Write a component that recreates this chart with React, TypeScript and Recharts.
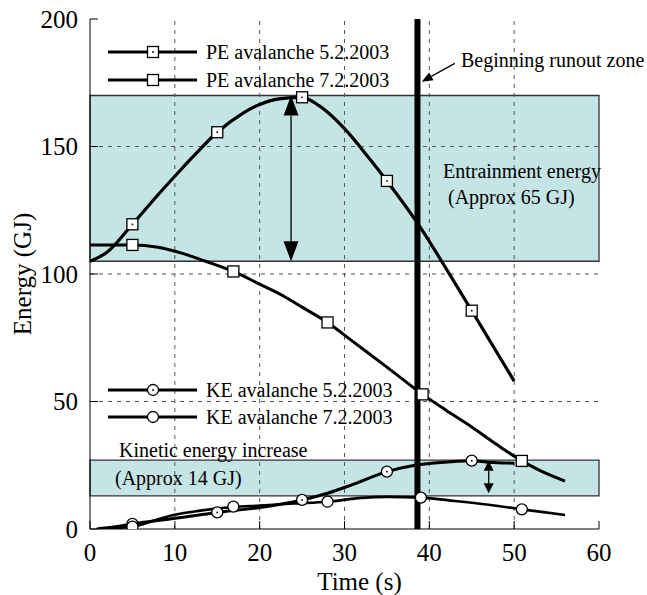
import React from "react";
import {
  ComposedChart,
  Line,
  Scatter,
  XAxis,
  YAxis,
  ReferenceArea,
  ReferenceLine,
  Label
} from "recharts";

const timeTicks = [0, 10, 20, 30, 40, 50, 60];
const energyTicks = [0, 50, 100, 150, 200];
const gridTimes = [10, 20, 30, 40, 50];
const gridEnergies = [50, 100, 150];

// potential energy, avalanche 5.2.2003
const pe0502Line = [
  { t: 0, e: 105 }, { t: 2, e: 108.5 }, { t: 5, e: 119.5 }, { t: 8, e: 131 },
  { t: 10.6, e: 140.5 }, { t: 12, e: 145.5 }, { t: 15, e: 155.6 }, { t: 18, e: 163 },
  { t: 20, e: 166.5 }, { t: 22.5, e: 168.8 }, { t: 25, e: 169.3 }, { t: 27, e: 166 },
  { t: 30, e: 157 }, { t: 33, e: 145 }, { t: 35, e: 136.5 }, { t: 38.9, e: 118.5 },
  { t: 42, e: 102 }, { t: 45, e: 85.6 }, { t: 48, e: 69 }, { t: 50, e: 58 }
];
const pe0502Marks = [
  { t: 5, e: 119.5 }, { t: 15, e: 155.6 }, { t: 25, e: 169.3 }, { t: 35, e: 136.5 }, { t: 45, e: 85.6 }
];

// potential energy, avalanche 7.2.2003
const pe0702Line = [
  { t: 0, e: 111.4 }, { t: 5, e: 111.4 }, { t: 8, e: 110.5 }, { t: 11, e: 108 },
  { t: 13.6, e: 105 }, { t: 16.9, e: 101 }, { t: 20, e: 96 }, { t: 23, e: 91 },
  { t: 25, e: 87 }, { t: 28, e: 81 }, { t: 31, e: 73.5 }, { t: 35, e: 63.5 },
  { t: 39.2, e: 52.8 }, { t: 42, e: 46.5 }, { t: 45, e: 40 }, { t: 48, e: 33 },
  { t: 50.9, e: 26.7 }, { t: 53, e: 23 }, { t: 56, e: 18.8 }
];
const pe0702Marks = [
  { t: 5, e: 111.4 }, { t: 16.9, e: 101 }, { t: 28, e: 81 }, { t: 39.2, e: 52.8 }, { t: 50.9, e: 26.7 }
];

// kinetic energy, avalanche 5.2.2003
const ke0502Line = [
  { t: 0.8, e: 0 }, { t: 3, e: 0.9 }, { t: 5, e: 2 }, { t: 8, e: 3.3 }, { t: 10, e: 4.2 },
  { t: 12, e: 5.1 }, { t: 15, e: 6.5 }, { t: 20, e: 8.4 }, { t: 25, e: 11.4 }, { t: 28, e: 14 },
  { t: 31, e: 17.5 }, { t: 35, e: 22.5 }, { t: 38, e: 24.8 }, { t: 41, e: 26 }, { t: 45, e: 26.8 },
  { t: 47, e: 26.2 }, { t: 50, e: 25.8 }
];
const ke0502Marks = [
  { t: 5, e: 2 }, { t: 15, e: 6.5 }, { t: 25, e: 11.4 }, { t: 35, e: 22.5 }, { t: 45, e: 26.8 }
];

// kinetic energy, avalanche 7.2.2003
const ke0702Line = [
  { t: 1, e: 0 }, { t: 3, e: 0.4 }, { t: 5, e: 0.9 }, { t: 8, e: 3.8 }, { t: 10, e: 5.6 },
  { t: 13, e: 7.2 }, { t: 16.9, e: 8.6 }, { t: 20, e: 9.2 }, { t: 24, e: 10 }, { t: 28, e: 10.7 },
  { t: 32, e: 12.2 }, { t: 35, e: 12.6 }, { t: 39, e: 12.3 }, { t: 43, e: 11 }, { t: 47, e: 9.5 },
  { t: 50.9, e: 7.7 }, { t: 53, e: 6.8 }, { t: 56, e: 5.5 }
];
const ke0702Marks = [
  { t: 5, e: 0.9 }, { t: 16.9, e: 8.8 }, { t: 28, e: 10.7 }, { t: 39, e: 12.3 }, { t: 50.9, e: 7.7 }
];

const entrainmentBand = [105, 170];
const kineticBand = [13, 27];
const runoutStart = 38.6;
const entrainArrow = { t: 23.7, from: 105, to: 170 };
const kineticArrow = { t: 47, from: 14, to: 26.8 };
const runoutPointer = { fromT: 43, fromE: 182.6, toT: 39.1, toE: 175.4 };

const FONT = "'Liberation Serif', 'Times New Roman', serif";
const BAND = "#c4e4e5";

const squareMark = (dotted: boolean) => (p: any) => (
  <g>
    <rect x={p.cx - 5.5} y={p.cy - 5.5} width={11} height={11} fill="#fff" stroke="#000" strokeWidth={1.3} />
    {dotted && <circle cx={p.cx} cy={p.cy} r={0.9} fill="#000" />}
  </g>
);

const circleMark = (dotted: boolean) => (p: any) => (
  <g>
    <circle cx={p.cx} cy={p.cy} r={5.5} fill="#fff" stroke="#000" strokeWidth={1.3} />
    {dotted && <circle cx={p.cx} cy={p.cy} r={0.9} fill="#000" />}
  </g>
);

const doubleArrow = (head: number, width: number) => (p: any) => {
  const x = p.x1;
  const top = Math.min(p.y1, p.y2);
  const bot = Math.max(p.y1, p.y2);
  return (
    <g>
      <line x1={x} x2={x} y1={top + head} y2={bot - head} stroke="#000" strokeWidth={1.3} />
      <polygon points={`${x},${top} ${x - width / 2},${top + head} ${x + width / 2},${top + head}`} fill="#000" />
      <polygon points={`${x},${bot} ${x - width / 2},${bot - head} ${x + width / 2},${bot - head}`} fill="#000" />
    </g>
  );
};

const pointer = (p: any) => {
  const dx = p.x2 - p.x1;
  const dy = p.y2 - p.y1;
  const len = Math.sqrt(dx * dx + dy * dy);
  const ux = dx / len;
  const uy = dy / len;
  const h = 11;
  const w = 4.5;
  const bx = p.x2 - ux * h;
  const by = p.y2 - uy * h;
  return (
    <g>
      <line x1={p.x1} y1={p.y1} x2={bx} y2={by} stroke="#000" strokeWidth={1.2} />
      <polygon
        points={`${p.x2},${p.y2} ${bx - uy * w},${by + ux * w} ${bx + uy * w},${by - ux * w}`}
        fill="#000"
      />
    </g>
  );
};

const legendRows = [
  { label: "PE avalanche 5.2.2003", y: 52, mark: squareMark(true) },
  { label: "PE avalanche 7.2.2003", y: 80, mark: squareMark(false) },
  { label: "KE avalanche 5.2.2003", y: 390, mark: circleMark(true) },
  { label: "KE avalanche 7.2.2003", y: 417, mark: circleMark(false) }
];

export default function App() {
  return (
    <div style={{ position: "absolute", left: 0, top: 0, width: 647, height: 595, background: "#fff", fontFamily: FONT }}>
      <ComposedChart width={647} height={595} margin={{ top: 19, right: 48, bottom: 0, left: 0 }}>
        <XAxis
          xAxisId={0}
          type="number"
          dataKey="t"
          domain={[0, 60]}
          ticks={timeTicks}
          height={66}
          tickSize={-8}
          tickMargin={22}
          stroke="#000"
          tick={{ fill: "#000", fontSize: 25, fontFamily: FONT }}
          allowDataOverflow
        >
          <Label value="Time (s)" position="insideBottom" offset={5} dx={15} style={{ fill: "#000", fontSize: 25, fontFamily: FONT }} />
        </XAxis>
        <XAxis
          xAxisId="top"
          orientation="top"
          type="number"
          dataKey="t"
          domain={[0, 60]}
          ticks={timeTicks}
          height={0}
          tickSize={-8}
          tick={false}
          stroke="#000"
        />
        <YAxis
          yAxisId={0}
          type="number"
          dataKey="e"
          domain={[0, 200]}
          ticks={energyTicks}
          width={90}
          tickSize={-8}
          tickMargin={20}
          stroke="#000"
          tick={{ fill: "#000", fontSize: 25, fontFamily: FONT }}
          allowDataOverflow
        >
          <Label value="Energy (GJ)" angle={-90} position="center" dx={-23} style={{ fill: "#000", fontSize: 25, fontFamily: FONT, textAnchor: "middle" }} />
        </YAxis>
        <YAxis
          yAxisId="right"
          orientation="right"
          type="number"
          domain={[0, 200]}
          ticks={energyTicks}
          width={0}
          tickSize={-8}
          tick={false}
          stroke="#000"
        />

        <ReferenceArea y1={entrainmentBand[0]} y2={entrainmentBand[1]} fill={BAND} fillOpacity={1} stroke="#333" strokeWidth={1.3} />
        <ReferenceArea y1={kineticBand[0]} y2={kineticBand[1]} fill={BAND} fillOpacity={1} stroke="#333" strokeWidth={1.3} />

        {gridTimes.map((t) => (
          <ReferenceLine key={"gx" + t} x={t} stroke="#555" strokeDasharray="4 5" strokeWidth={1} />
        ))}
        {gridEnergies.map((e) => (
          <ReferenceLine key={"gy" + e} y={e} stroke="#555" strokeDasharray="4 5" strokeWidth={1} />
        ))}

        <Line data={pe0502Line} dataKey="e" type="monotone" stroke="#000" strokeWidth={3.2} dot={false} activeDot={false} isAnimationActive={false} />
        <Line data={pe0702Line} dataKey="e" type="monotone" stroke="#000" strokeWidth={3} dot={false} activeDot={false} isAnimationActive={false} />
        <Line data={ke0502Line} dataKey="e" type="monotone" stroke="#000" strokeWidth={3} dot={false} activeDot={false} isAnimationActive={false} />
        <Line data={ke0702Line} dataKey="e" type="monotone" stroke="#000" strokeWidth={2.6} dot={false} activeDot={false} isAnimationActive={false} />

        <ReferenceLine x={runoutStart} stroke="#000" strokeWidth={6} />

        <Scatter data={pe0502Marks} dataKey="e" shape={squareMark(true)} isAnimationActive={false} />
        <Scatter data={pe0702Marks} dataKey="e" shape={squareMark(false)} isAnimationActive={false} />
        <Scatter data={ke0502Marks} dataKey="e" shape={circleMark(true)} isAnimationActive={false} />
        <Scatter data={ke0702Marks} dataKey="e" shape={circleMark(false)} isAnimationActive={false} />

        <ReferenceLine
          segment={[{ x: entrainArrow.t, y: entrainArrow.from }, { x: entrainArrow.t, y: entrainArrow.to }]}
          shape={doubleArrow(20, 15)}
        />
        <ReferenceLine
          segment={[{ x: kineticArrow.t, y: kineticArrow.from }, { x: kineticArrow.t, y: kineticArrow.to }]}
          shape={doubleArrow(10, 10)}
        />
        <ReferenceLine
          segment={[{ x: runoutPointer.fromT, y: runoutPointer.fromE }, { x: runoutPointer.toT, y: runoutPointer.toE }]}
          shape={pointer}
        />
      </ComposedChart>

      <svg width={647} height={595} style={{ position: "absolute", left: 0, top: 0, pointerEvents: "none" }}>
        <g fontFamily={FONT} fontSize={20} fill="#000">
          {legendRows.map((r) => (
            <g key={r.label}>
              <line x1={108} x2={197} y1={r.y} y2={r.y} stroke="#000" strokeWidth={3.2} />
              {r.mark({ cx: 153, cy: r.y })}
              <text x={206} y={r.y + 6.5}>{r.label}</text>
            </g>
          ))}
          <text x={461} y={67}>Beginning runout zone</text>
          <text x={443} y={178}>Entrainment energy</text>
          <text x={448} y={204}>(Approx 65 GJ)</text>
          <text x={119} y={457}>Kinetic energy increase</text>
          <text x={115} y={485}>(Approx 14 GJ)</text>
        </g>
      </svg>
    </div>
  );
}
